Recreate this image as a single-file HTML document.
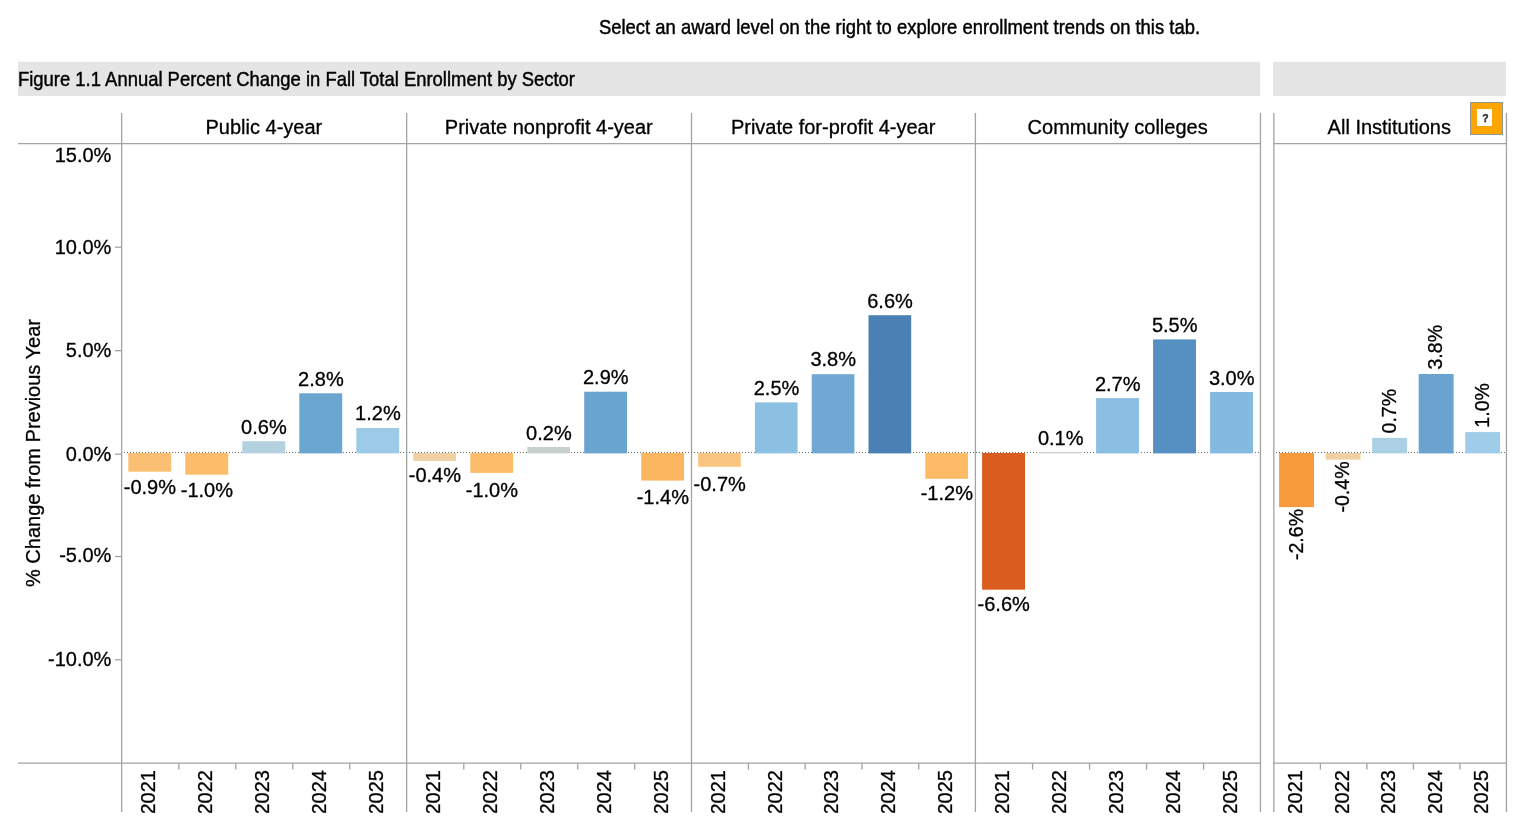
<!DOCTYPE html>
<html lang="en"><head><meta charset="utf-8"><title>Figure 1.1 Annual Percent Change in Fall Total Enrollment by Sector</title>
<style>html,body{margin:0;padding:0;background:#fff;}body{width:1514px;height:834px;overflow:hidden;position:relative;font-family:"Liberation Sans", Arial, sans-serif;}svg{position:absolute;left:0;top:0;display:block;}text{font-family:"Liberation Sans", Arial, sans-serif;font-size:20px;fill:#000;stroke:#000;stroke-width:0.3px;}</style>
</head><body>
<svg width="1514" height="834" viewBox="0 0 1514 834">
<text x="599" y="34" style="font-size:20.3px;stroke-width:0.45px" textLength="601" lengthAdjust="spacingAndGlyphs">Select an award level on the right to explore enrollment trends on this tab.</text>
<rect x="18" y="61.8" width="1242.2" height="34.2" fill="#e4e5e4"/>
<rect x="1273" y="61.8" width="233" height="34.2" fill="#e4e5e4"/>
<text x="18" y="85.5" style="font-size:20.7px;stroke-width:0.45px" textLength="557" lengthAdjust="spacingAndGlyphs">Figure 1.1 Annual Percent Change in Fall Total Enrollment by Sector</text>
<line x1="18.00" y1="143.65" x2="1261.10" y2="143.65" stroke="#a1a4a1" stroke-width="1.3" />
<line x1="18.00" y1="763.15" x2="1261.10" y2="763.15" stroke="#a1a4a1" stroke-width="1.3" />
<line x1="121.65" y1="113.00" x2="121.65" y2="812.00" stroke="#a1a4a1" stroke-width="1.3" />
<line x1="406.65" y1="113.00" x2="406.65" y2="812.00" stroke="#a1a4a1" stroke-width="1.3" />
<line x1="691.50" y1="113.00" x2="691.50" y2="812.00" stroke="#a1a4a1" stroke-width="1.3" />
<line x1="975.40" y1="113.00" x2="975.40" y2="812.00" stroke="#a1a4a1" stroke-width="1.3" />
<line x1="1260.45" y1="113.00" x2="1260.45" y2="812.00" stroke="#a1a4a1" stroke-width="1.3" />
<line x1="124" y1="452.5" x2="1260" y2="452.5" stroke="#687068" stroke-width="1" stroke-dasharray="1 2"/>
<text x="111.4" y="161.6" text-anchor="end">15.0%</text>
<line x1="115.00" y1="247.20" x2="121.50" y2="247.20" stroke="#a1a4a1" stroke-width="1.3" />
<text x="111.4" y="253.7" text-anchor="end">10.0%</text>
<line x1="115.00" y1="350.70" x2="121.50" y2="350.70" stroke="#a1a4a1" stroke-width="1.3" />
<text x="111.4" y="356.7" text-anchor="end">5.0%</text>
<line x1="115.00" y1="454.20" x2="121.50" y2="454.20" stroke="#a1a4a1" stroke-width="1.3" />
<text x="111.4" y="460.6" text-anchor="end">0.0%</text>
<line x1="115.00" y1="556.50" x2="121.50" y2="556.50" stroke="#a1a4a1" stroke-width="1.3" />
<text x="111.4" y="562.4" text-anchor="end">-5.0%</text>
<line x1="115.00" y1="659.80" x2="121.50" y2="659.80" stroke="#a1a4a1" stroke-width="1.3" />
<text x="111.4" y="665.7" text-anchor="end">-10.0%</text>
<text transform="translate(40 453) rotate(-90)" text-anchor="middle">% Change from Previous Year</text>
<text x="263.85" y="133.6" text-anchor="middle">Public 4-year</text>
<text x="548.78" y="133.6" text-anchor="middle">Private nonprofit 4-year</text>
<text x="833.15" y="133.6" text-anchor="middle">Private for-profit 4-year</text>
<text x="1117.62" y="133.6" text-anchor="middle">Community colleges</text>
<rect x="128.3" y="453.0" width="42.9" height="18.7" fill="#fbbf74"/>
<text x="149.9" y="494.0" text-anchor="middle">-0.9%</text>
<text transform="translate(155.1 770) rotate(-90)" text-anchor="end">2021</text>
<rect x="185.3" y="453.0" width="42.9" height="21.7" fill="#fdbc69"/>
<text x="206.9" y="497.0" text-anchor="middle">-1.0%</text>
<text transform="translate(212.1 770) rotate(-90)" text-anchor="end">2022</text>
<line x1="178.80" y1="763.15" x2="178.80" y2="769.60" stroke="#a1a4a1" stroke-width="1.3" />
<rect x="242.3" y="441.2" width="42.9" height="12.2" fill="#b3d1de"/>
<text x="263.9" y="433.5" text-anchor="middle">0.6%</text>
<text transform="translate(269.1 770) rotate(-90)" text-anchor="end">2023</text>
<line x1="235.80" y1="763.15" x2="235.80" y2="769.60" stroke="#a1a4a1" stroke-width="1.3" />
<rect x="299.3" y="393.3" width="42.9" height="60.1" fill="#6ba6d0"/>
<text x="320.9" y="385.6" text-anchor="middle">2.8%</text>
<text transform="translate(326.1 770) rotate(-90)" text-anchor="end">2024</text>
<line x1="292.80" y1="763.15" x2="292.80" y2="769.60" stroke="#a1a4a1" stroke-width="1.3" />
<rect x="356.3" y="428.0" width="42.9" height="25.4" fill="#9dcbe7"/>
<text x="377.9" y="420.4" text-anchor="middle">1.2%</text>
<text transform="translate(383.1 770) rotate(-90)" text-anchor="end">2025</text>
<line x1="349.80" y1="763.15" x2="349.80" y2="769.60" stroke="#a1a4a1" stroke-width="1.3" />
<rect x="413.3" y="453.0" width="42.8" height="7.9" fill="#f0cfa2"/>
<text x="434.9" y="481.9" text-anchor="middle">-0.4%</text>
<text transform="translate(440.1 770) rotate(-90)" text-anchor="end">2021</text>
<rect x="470.3" y="453.0" width="42.8" height="19.9" fill="#fdbc69"/>
<text x="491.9" y="496.7" text-anchor="middle">-1.0%</text>
<text transform="translate(497.1 770) rotate(-90)" text-anchor="end">2022</text>
<line x1="463.77" y1="763.15" x2="463.77" y2="769.60" stroke="#a1a4a1" stroke-width="1.3" />
<rect x="527.3" y="447.0" width="42.8" height="6.4" fill="#c6d1cd"/>
<text x="548.9" y="439.7" text-anchor="middle">0.2%</text>
<text transform="translate(554.0 770) rotate(-90)" text-anchor="end">2023</text>
<line x1="520.74" y1="763.15" x2="520.74" y2="769.60" stroke="#a1a4a1" stroke-width="1.3" />
<rect x="584.2" y="391.7" width="42.8" height="61.7" fill="#6aa5cf"/>
<text x="605.8" y="384.1" text-anchor="middle">2.9%</text>
<text transform="translate(611.0 770) rotate(-90)" text-anchor="end">2024</text>
<line x1="577.71" y1="763.15" x2="577.71" y2="769.60" stroke="#a1a4a1" stroke-width="1.3" />
<rect x="641.2" y="453.0" width="42.8" height="27.6" fill="#fdb660"/>
<text x="662.8" y="504.1" text-anchor="middle">-1.4%</text>
<text transform="translate(668.0 770) rotate(-90)" text-anchor="end">2025</text>
<line x1="634.68" y1="763.15" x2="634.68" y2="769.60" stroke="#a1a4a1" stroke-width="1.3" />
<rect x="698.1" y="453.0" width="42.7" height="13.8" fill="#f9c682"/>
<text x="719.7" y="491.0" text-anchor="middle">-0.7%</text>
<text transform="translate(724.8 770) rotate(-90)" text-anchor="end">2021</text>
<rect x="754.9" y="402.4" width="42.7" height="51.0" fill="#8cc0e2"/>
<text x="776.5" y="394.5" text-anchor="middle">2.5%</text>
<text transform="translate(781.6 770) rotate(-90)" text-anchor="end">2022</text>
<line x1="748.43" y1="763.15" x2="748.43" y2="769.60" stroke="#a1a4a1" stroke-width="1.3" />
<rect x="811.7" y="374.2" width="42.7" height="79.2" fill="#6fa8d3"/>
<text x="833.2" y="366.2" text-anchor="middle">3.8%</text>
<text transform="translate(838.4 770) rotate(-90)" text-anchor="end">2023</text>
<line x1="805.21" y1="763.15" x2="805.21" y2="769.60" stroke="#a1a4a1" stroke-width="1.3" />
<rect x="868.5" y="315.2" width="42.7" height="138.2" fill="#4a80b3"/>
<text x="890.0" y="307.5" text-anchor="middle">6.6%</text>
<text transform="translate(895.2 770) rotate(-90)" text-anchor="end">2024</text>
<line x1="861.99" y1="763.15" x2="861.99" y2="769.60" stroke="#a1a4a1" stroke-width="1.3" />
<rect x="925.3" y="453.0" width="42.7" height="25.8" fill="#fdba67"/>
<text x="946.8" y="499.9" text-anchor="middle">-1.2%</text>
<text transform="translate(952.0 770) rotate(-90)" text-anchor="end">2025</text>
<line x1="918.77" y1="763.15" x2="918.77" y2="769.60" stroke="#a1a4a1" stroke-width="1.3" />
<rect x="982.1" y="453.0" width="42.9" height="136.7" fill="#db5c1f"/>
<text x="1003.7" y="611.0" text-anchor="middle">-6.6%</text>
<text transform="translate(1008.9 770) rotate(-90)" text-anchor="end">2021</text>
<rect x="1039.1" y="451.9" width="42.9" height="1.5" fill="#ccd5cc"/>
<text x="1060.7" y="445.0" text-anchor="middle">0.1%</text>
<text transform="translate(1065.9 770) rotate(-90)" text-anchor="end">2022</text>
<line x1="1032.56" y1="763.15" x2="1032.56" y2="769.60" stroke="#a1a4a1" stroke-width="1.3" />
<rect x="1096.1" y="398.1" width="42.9" height="55.3" fill="#8abee2"/>
<text x="1117.7" y="390.6" text-anchor="middle">2.7%</text>
<text transform="translate(1122.9 770) rotate(-90)" text-anchor="end">2023</text>
<line x1="1089.57" y1="763.15" x2="1089.57" y2="769.60" stroke="#a1a4a1" stroke-width="1.3" />
<rect x="1153.1" y="339.4" width="42.9" height="114.0" fill="#5690c3"/>
<text x="1174.7" y="331.7" text-anchor="middle">5.5%</text>
<text transform="translate(1179.9 770) rotate(-90)" text-anchor="end">2024</text>
<line x1="1146.58" y1="763.15" x2="1146.58" y2="769.60" stroke="#a1a4a1" stroke-width="1.3" />
<rect x="1210.1" y="392.0" width="42.9" height="61.4" fill="#84bae0"/>
<text x="1231.7" y="384.5" text-anchor="middle">3.0%</text>
<text transform="translate(1236.9 770) rotate(-90)" text-anchor="end">2025</text>
<line x1="1203.59" y1="763.15" x2="1203.59" y2="769.60" stroke="#a1a4a1" stroke-width="1.3" />
<line x1="1273.25" y1="143.65" x2="1507.05" y2="143.65" stroke="#a1a4a1" stroke-width="1.3" />
<line x1="1273.25" y1="763.15" x2="1507.05" y2="763.15" stroke="#a1a4a1" stroke-width="1.3" />
<line x1="1273.85" y1="113.00" x2="1273.85" y2="812.00" stroke="#a1a4a1" stroke-width="1.3" />
<line x1="1506.45" y1="113.00" x2="1506.45" y2="812.00" stroke="#a1a4a1" stroke-width="1.3" />
<line x1="1276" y1="452.5" x2="1506" y2="452.5" stroke="#687068" stroke-width="1" stroke-dasharray="1 2"/>
<text x="1389.3" y="133.6" text-anchor="middle">All Institutions</text>
<rect x="1279.1" y="453.0" width="34.9" height="54.1" fill="#f89b3c"/>
<text transform="translate(1302.5 508.9) rotate(-90)" text-anchor="end" style="font-size:19.6px">-2.6%</text>
<text transform="translate(1302.2 770) rotate(-90)" text-anchor="end">2021</text>
<rect x="1325.7" y="453.0" width="34.9" height="6.6" fill="#f0cfa2"/>
<text transform="translate(1349.0 461.4) rotate(-90)" text-anchor="end" style="font-size:19.6px">-0.4%</text>
<text transform="translate(1348.7 770) rotate(-90)" text-anchor="end">2022</text>
<line x1="1320.37" y1="763.15" x2="1320.37" y2="769.60" stroke="#a1a4a1" stroke-width="1.3" />
<rect x="1372.2" y="437.9" width="34.9" height="15.5" fill="#abd0e3"/>
<text transform="translate(1395.5 433.5) rotate(-90)" text-anchor="start" style="font-size:19.6px">0.7%</text>
<text transform="translate(1395.2 770) rotate(-90)" text-anchor="end">2023</text>
<line x1="1366.89" y1="763.15" x2="1366.89" y2="769.60" stroke="#a1a4a1" stroke-width="1.3" />
<rect x="1418.7" y="374.0" width="34.9" height="79.4" fill="#6aa3d0"/>
<text transform="translate(1442.1 369.6) rotate(-90)" text-anchor="start" style="font-size:19.6px">3.8%</text>
<text transform="translate(1441.8 770) rotate(-90)" text-anchor="end">2024</text>
<line x1="1413.41" y1="763.15" x2="1413.41" y2="769.60" stroke="#a1a4a1" stroke-width="1.3" />
<rect x="1465.2" y="432.1" width="34.9" height="21.3" fill="#9fcde9"/>
<text transform="translate(1488.6 427.7) rotate(-90)" text-anchor="start" style="font-size:19.6px">1.0%</text>
<text transform="translate(1488.3 770) rotate(-90)" text-anchor="end">2025</text>
<line x1="1459.93" y1="763.15" x2="1459.93" y2="769.60" stroke="#a1a4a1" stroke-width="1.3" />
<rect x="0" y="812.8" width="1514" height="22" fill="#fff"/>
<rect x="1470.5" y="102.5" width="32" height="32" fill="#ffa500" stroke="#8e978e" stroke-width="1"/>
<rect x="1477" y="109" width="15" height="17" fill="#fff"/>
<text x="1485.5" y="122.2" text-anchor="middle" style="font-size:10.5px;font-weight:bold;fill:#2b2b2b;stroke:#2b2b2b;stroke-width:0.35px">?</text>
</svg>
</body></html>
